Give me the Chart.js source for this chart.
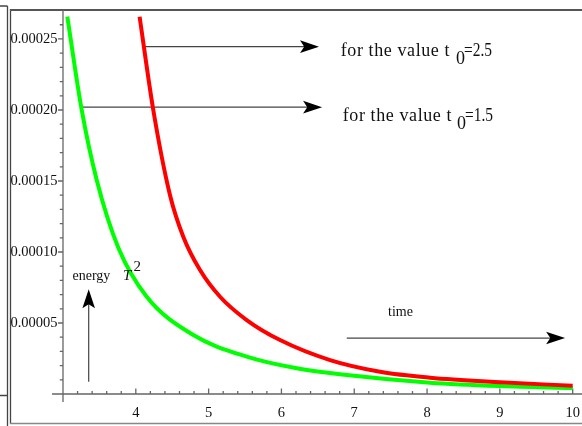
<!DOCTYPE html>
<html>
<head>
<meta charset="utf-8">
<script src="https://cdn.jsdelivr.net/npm/chart.js@4/dist/chart.umd.min.js"></script>
<style>
  html, body { margin: 0; padding: 0; background: #fff; }
  #wrap { width: 582px; height: 426px; }
</style>
</head>
<body>
<div id="wrap"><canvas id="chart" width="582" height="426"></canvas></div>
<script>
// axis ticks
const xTicks = [4, 5, 6, 7, 8, 9, 10];
const yTicks = [0.00005, 0.0001, 0.00015, 0.0002, 0.00025];
const yTickLabels = ['0.00005', '0.00010', '0.00015', '0.00020', '0.00025'];

// energy curve for t0 = 1.5 (green)
const greenT = [3.059, 3.257, 3.463, 3.76, 4.15, 4.79, 5.523, 6.21, 6.897, 8.041, 9.0, 10.0];
const greenE = [2.657e-4, 2.0e-4, 1.507e-4, 1.03e-4, 6.85e-5, 4.15e-5, 2.63e-5, 1.81e-5, 1.34e-5, 8.0e-6, 5.6e-6, 4.2e-6];

// energy curve for t0 = 2.5 (red)
const redT = [4.052, 4.24, 4.47, 4.652, 4.882, 5.157, 5.523, 5.981, 6.668, 7.354, 8.041, 9.0, 10.0];
const redE = [2.657e-4, 2.0e-4, 1.40e-4, 1.108e-4, 8.73e-5, 6.85e-5, 5.21e-5, 3.80e-5, 2.39e-5, 1.57e-5, 1.15e-5, 8.3e-6, 5.8e-6];

// annotation arrows, in data units
const arrows = [
  { from: [4.12, 2.446e-4], to: [6.516, 2.446e-4] },
  { from: [3.257, 2.02e-4], to: [6.558, 2.02e-4] },
  { from: [3.353, 8.7e-6], to: [3.353, 7.37e-5] },
  { from: [6.897, 3.94e-5], to: [9.896, 3.94e-5] }
];

const toPoints = (xs, ys) => xs.map((x, i) => ({ x: x, y: ys[i] }));

function arrowHead(ctx, tx, ty, dir) {
  const len = 19, half = 6.3, notch = 0.78;
  ctx.beginPath();
  if (dir === 'right') {
    ctx.moveTo(tx, ty);
    ctx.lineTo(tx - len, ty - half);
    ctx.lineTo(tx - len * notch, ty);
    ctx.lineTo(tx - len, ty + half);
  } else {
    ctx.moveTo(tx, ty);
    ctx.lineTo(tx - half, ty + len);
    ctx.lineTo(tx, ty + len * notch);
    ctx.lineTo(tx + half, ty + len);
  }
  ctx.closePath();
  ctx.fill();
}

function text(ctx, str, x, y, font, opts) {
  opts = opts || {};
  ctx.font = font;
  ctx.textAlign = opts.align || 'left';
  ctx.textBaseline = opts.baseline || 'alphabetic';
  if ('letterSpacing' in ctx) ctx.letterSpacing = opts.spacing || '0px';
  if (opts.maxWidth) ctx.fillText(str, x, y, opts.maxWidth);
  else ctx.fillText(str, x, y);
  if ('letterSpacing' in ctx) ctx.letterSpacing = '0px';
}

const framePlugin = {
  id: 'frame',
  beforeDraw(chart) {
    const ctx = chart.ctx;
    ctx.save();
    ctx.fillStyle = '#fff';
    ctx.fillRect(0, 0, chart.width, chart.height);
    // page border bits around the figure
    ctx.strokeStyle = '#444';
    ctx.lineWidth = 1.3;
    ctx.beginPath();
    ctx.moveTo(0, 6); ctx.lineTo(7.5, 6);
    ctx.moveTo(7.5, 6); ctx.lineTo(7.5, 426);
    ctx.moveTo(10.5, 9); ctx.lineTo(10.5, 424);
    ctx.moveTo(0, 395.5); ctx.lineTo(7.5, 395.5);
    ctx.stroke();
    ctx.lineWidth = 2;
    ctx.strokeStyle = '#555';
    ctx.beginPath();
    ctx.moveTo(10, 10); ctx.lineTo(582, 10);
    ctx.stroke();
    ctx.strokeStyle = '#888';
    ctx.lineWidth = 1.5;
    ctx.beginPath();
    ctx.moveTo(10, 423.5); ctx.lineTo(582, 423.5);
    ctx.stroke();
    ctx.restore();
  },
  beforeDatasetsDraw(chart) {
    const ctx = chart.ctx;
    const xs = chart.scales.x, ys = chart.scales.y;
    const area = chart.chartArea;
    const x0 = xs.getPixelForValue(3);
    const y0 = ys.getPixelForValue(0);
    ctx.save();
    ctx.strokeStyle = '#666';
    ctx.lineWidth = 1.3;
    ctx.beginPath();
    ctx.moveTo(area.left, y0); ctx.lineTo(area.right, y0);
    ctx.moveTo(x0, area.top); ctx.lineTo(x0, area.bottom);
    // x ticks, pointing up
    for (let i = 1; i <= 35; i++) {
      const v = 3 + i * 0.2;
      const p = xs.getPixelForValue(v);
      const major = i % 5 === 0;
      ctx.moveTo(p, y0); ctx.lineTo(p, y0 - (major ? 5.5 : 3));
    }
    // y ticks, pointing left
    for (let i = 1; i <= 26; i++) {
      const p = ys.getPixelForValue(i * 0.00001);
      const major = i % 5 === 0;
      ctx.moveTo(x0, p); ctx.lineTo(x0 - (major ? 5 : 3.2), p);
    }
    ctx.stroke();

    ctx.fillStyle = '#111';
    xTicks.forEach(v => {
      text(ctx, String(v), xs.getPixelForValue(v), 416.5, '14.5px "Liberation Serif"', { align: 'center' });
    });
    yTicks.forEach((v, i) => {
      text(ctx, yTickLabels[i], 57.5, ys.getPixelForValue(v) + 0.5, '14.5px "Liberation Serif"', { align: 'right', baseline: 'middle' });
    });

    // arrows
    ctx.strokeStyle = '#444';
    ctx.fillStyle = '#000';
    ctx.lineWidth = 1.2;
    arrows.forEach(a => {
      const fx = xs.getPixelForValue(a.from[0]), fy = ys.getPixelForValue(a.from[1]);
      const tx = xs.getPixelForValue(a.to[0]), ty = ys.getPixelForValue(a.to[1]);
      const dir = fy === ty ? 'right' : 'up';
      ctx.beginPath();
      ctx.moveTo(fx, fy);
      if (dir === 'right') ctx.lineTo(tx - 12, ty); else ctx.lineTo(tx, ty + 12);
      ctx.stroke();
      arrowHead(ctx, tx, ty, dir);
    });
    ctx.restore();
  },
  afterDatasetsDraw(chart) {
    const ctx = chart.ctx;
    ctx.save();
    ctx.fillStyle = '#111';
    text(ctx, 'for the value t', 340.7, 55.5, '18px "Liberation Serif"', { spacing: '0.6px' });
    text(ctx, '0', 456, 64, '18px "Liberation Serif"');
    text(ctx, '=2.5', 464, 55.5, '18px "Liberation Serif"', { maxWidth: 28 });
    text(ctx, 'for the value t', 342.7, 120.5, '18px "Liberation Serif"', { spacing: '0.6px' });
    text(ctx, '0', 457, 129, '18px "Liberation Serif"');
    text(ctx, '=1.5', 465, 120.5, '18px "Liberation Serif"', { maxWidth: 28 });
    text(ctx, 'energy', 72.5, 280, '14px "Liberation Serif"');
    text(ctx, 'T', 123, 280, 'italic 15px "Liberation Serif"');
    text(ctx, '2', 133.5, 271, '15px "Liberation Serif"');
    text(ctx, 'time', 388, 316, '14px "Liberation Serif"');
    ctx.restore();
  }
};

new Chart(document.getElementById('chart'), {
  type: 'line',
  data: {
    datasets: [
      {
        label: 't0 = 2.5',
        data: toPoints(redT, redE),
        borderColor: '#ff0000',
        borderWidth: 4,
        pointRadius: 0,
        fill: false,
        cubicInterpolationMode: 'monotone'
      },
      {
        label: 't0 = 1.5',
        data: toPoints(greenT, greenE),
        borderColor: '#00ff00',
        borderWidth: 4,
        pointRadius: 0,
        fill: false,
        cubicInterpolationMode: 'monotone'
      }
    ]
  },
  options: {
    responsive: false,
    animation: false,
    devicePixelRatio: 1,
    layout: { padding: { left: 52, right: 0, top: 10, bottom: 24 } },
    scales: {
      x: { type: 'linear', min: 2.849, max: 10.128, display: false },
      y: { type: 'linear', min: -5.63e-6, max: 2.704e-4, display: false }
    },
    plugins: {
      legend: { display: false },
      tooltip: { enabled: false }
    }
  },
  plugins: [framePlugin]
});
</script>
</body>
</html>
